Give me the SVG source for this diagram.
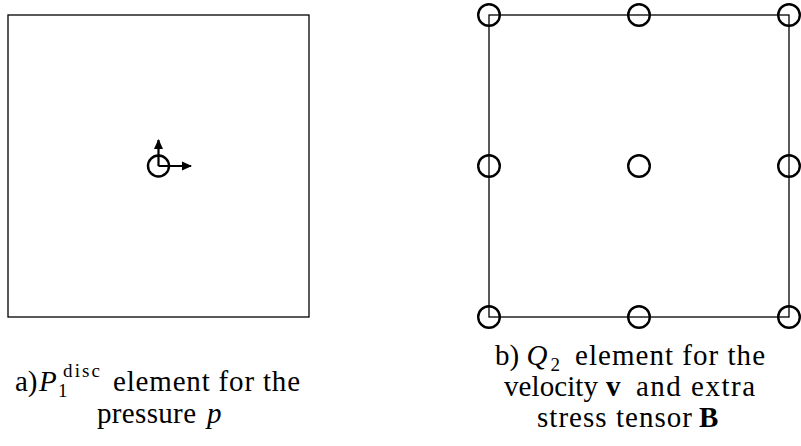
<svg xmlns="http://www.w3.org/2000/svg" width="801" height="446" viewBox="0 0 801 446">
<style>
.frame{fill:none;stroke:#000;stroke-width:1.3}
.node{fill:none;stroke:#000;stroke-width:2.4}
.arrow{fill:none;stroke:#000;stroke-width:2.2}
.cap{font-family:"Liberation Serif","DejaVu Serif",serif;font-size:29px;fill:#000}
.sm{font-size:19px}
.it{font-style:italic}
.bf{font-weight:bold}
</style>
<defs>
<marker id="ah" viewBox="0 0 10 10" refX="9" refY="5" markerWidth="4.6" markerHeight="4.6" markerUnits="strokeWidth" orient="auto">
<path d="M0,0.5 L10,5 L0,9.5 z" fill="#000"/>
</marker>
</defs>
<rect width="801" height="446" fill="#fff"/>
<g id="element-a">
<rect class="frame" x="8" y="15" width="301" height="302"/>
<g id="a-node">
<circle class="node" cx="158.5" cy="166" r="10.5"/>
<line class="arrow" x1="158.5" y1="166" x2="158.5" y2="140" marker-end="url(#ah)"/>
<line class="arrow" x1="158.5" y1="166" x2="191" y2="166" marker-end="url(#ah)"/>
</g>
<g id="caption-a">
<text class="cap" x="15" y="391">a)</text>
<text class="cap it" x="39" y="391">P</text>
<text class="cap sm" x="63" y="377" textLength="37" lengthAdjust="spacing">disc</text>
<text class="cap sm" x="58" y="397">1</text>
<text class="cap" x="113" y="391" textLength="187" lengthAdjust="spacing">element for the</text>
<text class="cap" x="97" y="423" textLength="99" lengthAdjust="spacing">pressure</text>
<text class="cap it" x="207" y="423">p</text>
</g>
</g>
<g id="element-b">
<rect class="frame" x="489" y="15" width="300" height="302"/>
<g id="b-nodes">
<circle class="node" cx="489" cy="15" r="10.8"/>
<circle class="node" cx="639" cy="15" r="10.8"/>
<circle class="node" cx="789" cy="15" r="10.8"/>
<circle class="node" cx="489" cy="166" r="10.8"/>
<circle class="node" cx="639" cy="166" r="10.8"/>
<circle class="node" cx="789" cy="166" r="10.8"/>
<circle class="node" cx="489" cy="317" r="10.8"/>
<circle class="node" cx="639" cy="317" r="10.8"/>
<circle class="node" cx="789" cy="317" r="10.8"/>
</g>
<g id="caption-b">
<text class="cap" x="495" y="365">b) <tspan class="it">Q</tspan><tspan class="sm" dx="3" dy="6">2</tspan></text>
<text class="cap" x="575" y="365" textLength="190" lengthAdjust="spacing">element for the</text>
<text class="cap" x="504" y="396" textLength="94" lengthAdjust="spacing">velocity</text>
<text class="cap bf" x="606" y="396">v</text>
<text class="cap" x="636" y="396" textLength="119" lengthAdjust="spacing">and extra</text>
<text class="cap" x="537" y="427" textLength="155" lengthAdjust="spacing">stress tensor</text>
<text class="cap bf" x="699" y="427">B</text>
</g>
</g>
</svg>
